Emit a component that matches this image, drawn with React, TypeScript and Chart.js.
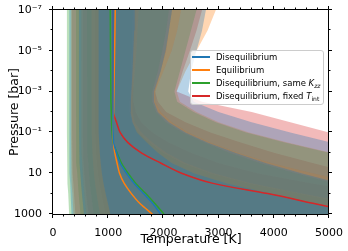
import React, { useEffect, useRef } from "react";
import { Chart, registerables } from "chart.js";

Chart.register(...registerables);

// Pressure grid [bar]
const pressure = [1e-7, 1e-6, 1e-5, 1e-4, 1e-3, 3.16e-3, 1e-2, 3.16e-2, 0.1, 0.316, 1, 3.16, 10, 31.6, 100, 316, 1000];

// Median temperature profiles [K]
const tDiseq = [1087, 1087, 1087, 1087, 1087, 1087, 1087, 1088, 1090, 1100, 1150, 1215, 1330, 1470, 1640, 1810, 1950];
const tEq = [1128, 1122, 1116, 1110, 1104, 1100, 1097, 1092, 1088, 1095, 1120, 1160, 1205, 1290, 1420, 1580, 1800];
const tSameKzz = [1038, 1040, 1042, 1045, 1048, 1050, 1056, 1062, 1070, 1090, 1160, 1240, 1360, 1500, 1680, 1850, 2010];
const tFixedTint = [1085, 1085, 1085, 1085, 1085, 1085, 1088, 1150, 1215, 1357, 1600, 1950, 2330, 2900, 3890, 4750, 5600];

// Credible-interval bands (lower / upper temperature) per model
const diseq1Lo = [826, 826, 826, 826, 826, 826, 826, 826, 830, 837, 847, 864, 885, 915, 953, 996, 1038];
const diseq1Hi = [1480, 1470, 1455, 1440, 1420, 1410, 1405, 1440, 1520, 1700, 1900, 2150, 2550, 3150, 3950, 4750, 5500];
const diseq2Lo = [470, 470, 470, 470, 470, 470, 470, 470, 472, 475, 479, 486, 495, 508, 524, 542, 560];
const diseq2Hi = [2156, 2100, 2040, 1950, 1830, 1830, 1900, 2100, 2400, 2800, 3300, 3850, 4500, 5200, 6000, 7000, 8000];
const diseq3Lo = [295, 295, 295, 295, 295, 295, 295, 295, 296, 297, 299, 302, 306, 312, 319, 327, 335];
const diseq3Hi = [2770, 2700, 2600, 2500, 2450, 2550, 3000, 3600, 4300, 5050, 5800, 6500, 7200, 8000, 8800, 9600, 10400];

const eq1Lo = [700, 700, 700, 700, 700, 700, 700, 700, 703, 708, 715, 727, 742, 763, 790, 820, 850];
const eq1Hi = [1550, 1530, 1510, 1480, 1450, 1440, 1440, 1480, 1600, 1800, 2050, 2400, 2900, 3600, 4500, 5500, 6500];
const eq2Lo = [513, 513, 513, 513, 513, 513, 513, 513, 515, 518, 522, 529, 538, 551, 567, 585, 603];
const eq2Hi = [2320, 2250, 2150, 2000, 1850, 1850, 1950, 2150, 2450, 2850, 3350, 3950, 4700, 5500, 6300, 7200, 8000];
const eq3Lo = [325, 325, 325, 325, 325, 325, 325, 325, 326, 327, 330, 333, 338, 344, 352, 361, 370];
const eq3Hi = [2950, 2800, 2600, 2400, 2240, 2300, 2600, 3000, 3550, 4250, 5050, 5800, 6600, 7400, 8200, 9000, 9800];

const kzz1Lo = [616, 616, 616, 616, 616, 616, 616, 616, 618, 622, 628, 638, 650, 666, 688, 712, 736];
const kzz1Hi = [1450, 1440, 1430, 1410, 1400, 1390, 1390, 1430, 1550, 1750, 2000, 2350, 2850, 3550, 4450, 5400, 6400];
const kzz2Lo = [417, 417, 417, 417, 417, 417, 417, 417, 419, 421, 425, 431, 439, 451, 465, 481, 497];
const kzz2Hi = [2100, 2050, 1980, 1900, 1800, 1800, 1870, 2050, 2350, 2750, 3200, 3750, 4400, 5100, 5900, 6800, 7600];
const kzz3Lo = [252, 252, 252, 252, 252, 252, 252, 252, 253, 254, 256, 259, 263, 269, 276, 284, 292];
const kzz3Hi = [2600, 2500, 2400, 2300, 2200, 2250, 2550, 2950, 3500, 4200, 5000, 5800, 6600, 7400, 8200, 9000, 9800];

const tint1Lo = [760, 760, 760, 760, 760, 760, 760, 760, 764, 770, 779, 794, 813, 840, 874, 912, 950];
const tint1Hi = [1500, 1490, 1475, 1460, 1450, 1460, 1500, 1600, 1800, 2100, 2500, 3000, 3700, 4700, 5800, 7000, 8000];
const tint2Lo = [540, 540, 540, 540, 540, 540, 540, 540, 542, 545, 551, 559, 569, 584, 603, 624, 645];
const tint2Hi = [2156, 2100, 2050, 1950, 1850, 1900, 2050, 2400, 2850, 3400, 4000, 4700, 5400, 6200, 7000, 7800, 8600];
const tint3Lo = [344, 344, 344, 344, 344, 344, 344, 344, 345, 347, 350, 355, 361, 369, 380, 392, 404];
const tint3Hi = [2700, 2600, 2480, 2350, 2240, 2700, 3600, 4300, 5000, 5700, 6400, 7100, 7800, 8500, 9200, 9900, 10600];

const seriesLabels = ["Disequilibrium", "Equilibrium", "Disequilibrium, same K_zz", "Disequilibrium, fixed T_int"];

// Axis ticks
const xTickValues = [0, 1000, 2000, 3000, 4000, 5000];
const yTickValues = [1e-7, 1e-6, 1e-5, 1e-4, 1e-3, 1e-2, 1e-1, 1, 10, 100, 1000];
const yTickLabels = ["10\u207B\u2077", "", "10\u207B\u2075", "", "10\u207B\u00B3", "", "10\u207B\u00B9", "", "10", "", "1000"];

const C0 = "#1f77b4";
const C1 = "#ff7f0e";
const C2 = "#2ca02c";
const C3 = "#d62728";
const A = 0.32;
const rgba = (hex: string, a: number) => {
  const n = parseInt(hex.slice(1), 16);
  return `rgba(${(n >> 16) & 255},${(n >> 8) & 255},${n & 255},${a})`;
};

const profile = (temps: number[]) => temps.map((t, i) => ({ x: t, y: pressure[i] }));
const polygon = (lo: number[], hi: number[]) => [
  ...lo.map((t, i) => ({ x: t, y: pressure[i] })),
  ...hi.map((t, i) => ({ x: t, y: pressure[i] })).reverse(),
];

const FONT = "'DejaVu Sans', 'Liberation Sans', sans-serif";

const framePlugin = {
  id: "frame",
  afterDatasetsDraw(chart: any) {
    const { ctx, chartArea: a, scales } = chart;
    const xs = scales.x;
    const ys = scales.y;
    const L = a.left - 0.5;
    const R = a.right - 0.5;
    const T = a.top - 0.5;
    const B = a.bottom + 0.5;
    ctx.save();
    ctx.strokeStyle = "#000";
    ctx.lineWidth = 1;
    ctx.beginPath();
    ctx.rect(L, T, R - L, B - T);
    const seg = (x1: number, y1: number, x2: number, y2: number) => {
      ctx.moveTo(x1, y1);
      ctx.lineTo(x2, y2);
    };
    for (let v = 0; v <= 5000; v += 200) {
      const px = Math.round(xs.getPixelForValue(v)) - 0.5;
      const len = v % 1000 === 0 ? 3.5 : 2;
      seg(px, B, px, B + len);
      seg(px, T, px, T - len);
    }
    yTickValues.forEach((v, i) => {
      const py = Math.round(ys.getPixelForValue(v)) - 0.5;
      const len = yTickLabels[i] ? 3.5 : 2;
      seg(L, py, L - len, py);
      seg(R, py, R + len, py);
    });
    ctx.stroke();
    ctx.restore();
  },
};

export default function App() {
  const ref = useRef<HTMLCanvasElement>(null);

  useEffect(() => {
    const bandGroups = [
      { color: C0, order: 10, bands: [[diseq3Lo, diseq3Hi], [diseq2Lo, diseq2Hi], [diseq1Lo, diseq1Hi]] },
      { color: C1, order: 20, bands: [[eq3Lo, eq3Hi], [eq2Lo, eq2Hi], [eq1Lo, eq1Hi]] },
      { color: C2, order: 30, bands: [[kzz3Lo, kzz3Hi], [kzz2Lo, kzz2Hi], [kzz1Lo, kzz1Hi]] },
      { color: C3, order: 40, bands: [[tint3Lo, tint3Hi], [tint2Lo, tint2Hi], [tint1Lo, tint1Hi]] },
    ];
    const bandSets: any[] = [];
    bandGroups.forEach((g) =>
      g.bands.forEach(([lo, hi], k) =>
        bandSets.push({
          label: "band",
          data: polygon(lo, hi),
          backgroundColor: rgba(g.color, A),
          borderWidth: 0,
          pointRadius: 0,
          tension: 0,
          fill: "shape",
          order: g.order + k,
        })
      )
    );
    const lineSet = (label: string, temps: number[], color: string, order: number) => ({
      label,
      data: profile(temps),
      borderColor: color,
      backgroundColor: color,
      borderWidth: 1.5,
      pointRadius: 0,
      tension: 0.3,
      fill: false,
      order,
    });

    Chart.defaults.font.family = FONT;
    const chart = new Chart(ref.current as HTMLCanvasElement, {
      type: "line",
      data: {
        datasets: [
          lineSet(seriesLabels[0], tDiseq, C0, 0),
          lineSet(seriesLabels[1], tEq, C1, 1),
          lineSet(seriesLabels[2], tSameKzz, C2, 2),
          lineSet(seriesLabels[3], tFixedTint, C3, 3),
          ...bandSets,
        ],
      },
      options: {
        animation: false,
        responsive: false,
        devicePixelRatio: 1,
        events: [],
        layout: { padding: { left: 0, right: 19, top: 10, bottom: 0 } },
        plugins: { legend: { display: false }, tooltip: { enabled: false } },
        scales: {
          x: {
            type: "linear",
            min: 0,
            max: 5000,
            grid: { display: false },
            border: { display: false },
            afterBuildTicks: (s: any) => {
              s.ticks = xTickValues.map((v) => ({ value: v }));
            },
            afterFit: (s: any) => {
              s.height = 37;
            },
            ticks: {
              autoSkip: false,
              maxRotation: 0,
              padding: 5,
              color: "#000",
              font: { size: 11 },
              callback: (v: any) => String(v),
            },
            title: {
              display: true,
              text: "Temperature [K]",
              color: "#000",
              font: { size: 12.5 },
              padding: { top: 0, bottom: 4 },
            },
          },
          y: {
            type: "logarithmic",
            reverse: true,
            min: 1e-7,
            max: 1000,
            grid: { display: false },
            border: { display: false },
            afterBuildTicks: (s: any) => {
              s.ticks = yTickValues.map((v) => ({ value: v }));
            },
            afterFit: (s: any) => {
              s.width = 53;
            },
            ticks: {
              autoSkip: false,
              padding: 3,
              color: "#000",
              font: { size: 11 },
              callback: (_v: any, i: number) => yTickLabels[i],
            },
            title: {
              display: true,
              text: "Pressure [bar]",
              color: "#000",
              font: { size: 12.5 },
              padding: { top: 7.5, bottom: 0 },
            },
          },
        },
      },
      plugins: [framePlugin],
    } as any);
    return () => chart.destroy();
  }, []);

  const legendRows = [
    { color: C0, content: <>{seriesLabels[0]}</> },
    { color: C1, content: <>{seriesLabels[1]}</> },
    {
      color: C2,
      content: (
        <>
          Disequilibrium, same <i>K</i>
          <sub style={{ fontSize: "6px", verticalAlign: "-2px", lineHeight: 0, fontStyle: "italic" }}>zz</sub>
        </>
      ),
    },
    {
      color: C3,
      content: (
        <>
          Disequilibrium, fixed <i>T</i>
          <sub style={{ fontSize: "6px", verticalAlign: "-2px", lineHeight: 0 }}>int</sub>
        </>
      ),
    },
  ];

  return (
    <div style={{ position: "fixed", left: 0, top: 0, width: 348, height: 251, background: "#fff", fontFamily: FONT }}>
      <canvas ref={ref} width={348} height={251} style={{ display: "block", width: 348, height: 251 }} />
      <div
        style={{
          position: "absolute",
          left: 190,
          top: 50,
          width: 134,
          height: 55,
          boxSizing: "border-box",
          background: "rgba(255,255,255,0.8)",
          border: "1px solid #cccccc",
          borderRadius: 3,
        }}
      >
        {legendRows.map((r, i) => (
          <div
            key={i}
            style={{
              position: "absolute",
              left: 0,
              top: 6 + i * 13 - 6.5,
              height: 13,
              width: 133,
              display: "flex",
              alignItems: "center",
              fontSize: "8.5px",
              color: "#000",
              whiteSpace: "nowrap",
            }}
          >
            <span style={{ display: "inline-block", width: 18, height: 0, borderTop: `2px solid ${r.color}`, marginLeft: 1, marginRight: 6 }} />
            <span>{r.content}</span>
          </div>
        ))}
      </div>
    </div>
  );
}
